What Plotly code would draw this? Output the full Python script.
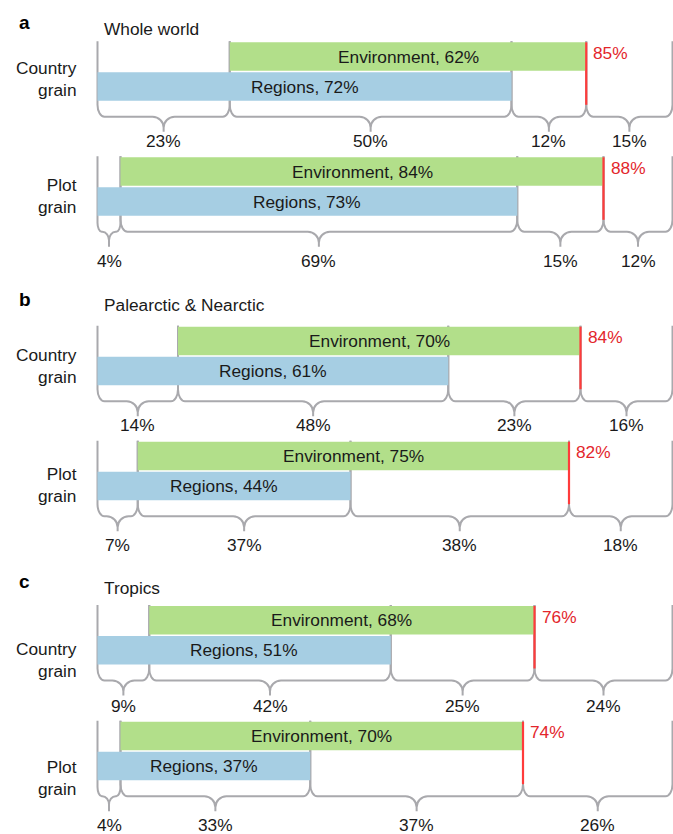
import plotly.graph_objects as go

# ---------------- data ----------------
panel_letters = ["a", "b", "c"]
panel_titles = ["Whole world", "Palearctic & Nearctic", "Tropics"]
row_labels = ["Country<br>grain", "Plot<br>grain", "Country<br>grain", "Plot<br>grain", "Country<br>grain", "Plot<br>grain"]
regions = [72, 73, 61, 44, 51, 37]          # Regions bar (%)
environment = [62, 84, 70, 75, 68, 70]      # Environment bar (%)
total = [85, 88, 84, 82, 76, 74]            # total explained (red)
seg_regions_only = [23, 4, 14, 7, 9, 4]     # bracket 1
seg_shared = [50, 69, 48, 37, 42, 33]       # bracket 2
seg_env_only = [12, 15, 23, 38, 25, 37]     # bracket 3
seg_unexplained = [15, 12, 16, 18, 24, 26]  # bracket 4

# ---------------- layout constants ----------------
W, H = 673, 834
X0_PX, PX_PER_PCT = 97.5, 5.75
ROW_TOP = [42.3, 157.3, 326.7, 441.7, 606.0, 721.7]
BAR_H = 28.5
BAR_GAP = 1.5
BRACE_DY = 74.5
TIP_LEN = 15
LABEL_DY = [98.5, 104, 98, 103.5, 100, 102.8]
ROWLABEL_Y = [78.5, 196, 366, 485, 660, 778]
PANEL_LETTER_Y = [22, 299, 581]
PANEL_TITLE_Y = [29, 305, 588]
RX_END, RY_END = 7.0, 12.0
RX_MID, RY_MID = 11.0, 11.0

GREEN = "#B2DF8A"
BLUE = "#A6CEE3"
GRAY = "#A9A9AD"
RED_LINE = "#FF3B3B"
RED_TEXT = "#E3262B"
FONT = "Liberation Sans, Arial, Helvetica, sans-serif"
FS = 17.3

xmin = -X0_PX / PX_PER_PCT
xmax = (W - X0_PX) / PX_PER_PCT

fig = go.Figure()

# bars
env_y, env_base, env_len = [], [], []
reg_y, reg_base, reg_len = [], [], []
for i in range(6):
    top = ROW_TOP[i]
    env_y.append(top + BAR_H / 2)
    env_base.append(seg_regions_only[i])
    env_len.append(total[i] - seg_regions_only[i])
    reg_y.append(top + BAR_H + BAR_GAP + BAR_H / 2)
    reg_base.append(0)
    reg_len.append(regions[i])

fig.add_trace(go.Bar(orientation="h", y=env_y, x=env_len, base=env_base, width=BAR_H,
                     marker=dict(color=GREEN, line=dict(width=0)), hoverinfo="skip", showlegend=False))
fig.add_trace(go.Bar(orientation="h", y=reg_y, x=reg_len, base=reg_base, width=BAR_H,
                     marker=dict(color=BLUE, line=dict(width=0)), hoverinfo="skip", showlegend=False))

k = 0.5523


def brace_path(x0, x1, yh, top):
    w_px = (x1 - x0) * PX_PER_PCT
    f = min(1.0, w_px / (2 * (RX_END + RX_MID) + 2))
    rxe = RX_END * f / PX_PER_PCT
    rye = RY_END * (0.4 + 0.6 * f)
    rxm = RX_MID * f / PX_PER_PCT
    rym = RY_MID * (0.4 + 0.6 * f)
    xm = (x0 + x1) / 2
    c = 1 - k
    p = (f"M{x0},{top} L{x0},{yh - rye} "
         f"C{x0},{yh - rye * c} {x0 + rxe * c},{yh} {x0 + rxe},{yh} "
         f"L{xm - rxm},{yh} "
         f"C{xm - rxm * c},{yh} {xm},{yh + rym * c} {xm},{yh + rym} "
         f"L{xm},{yh + TIP_LEN} "
         f"M{xm},{yh + rym} "
         f"C{xm},{yh + rym * c} {xm + rxm * c},{yh} {xm + rxm},{yh} "
         f"L{x1 - rxe},{yh} "
         f"C{x1 - rxe * c},{yh} {x1},{yh - rye * c} {x1},{yh - rye} "
         f"L{x1},{top}")
    return p, rye


shapes = []
annotations = []
for i in range(6):
    top = ROW_TOP[i]
    yh = top + BRACE_DY
    bounds = [0, seg_regions_only[i], regions[i], total[i], 100]
    segs = [seg_regions_only[i], seg_shared[i], seg_env_only[i], seg_unexplained[i]]
    red_end = yh - RY_END
    for j in range(4):
        p, rye = brace_path(bounds[j], bounds[j + 1], yh, top - 1)
        shapes.append(dict(type="path", path=p, xref="x", yref="y", layer="below",
                           line=dict(color=GRAY, width=2)))
        annotations.append(dict(x=(bounds[j] + bounds[j + 1]) / 2, y=top + LABEL_DY[i],
                                xref="x", yref="y", text=f"{segs[j]}%", showarrow=False,
                                xanchor="center", yanchor="middle",
                                font=dict(family=FONT, size=FS, color="#1a1a1a")))
    # red total line
    shapes.append(dict(type="line", x0=total[i], x1=total[i], y0=top, y1=red_end,
                       xref="x", yref="y", layer="above", line=dict(color=RED_LINE, width=2.2)))
    annotations.append(dict(x=total[i], y=top + 10.5, xref="x", yref="y", text=f"{total[i]}%",
                            showarrow=False, xanchor="left", yanchor="middle", xshift=5,
                            font=dict(family=FONT, size=FS, color=RED_TEXT)))
    # bar labels
    annotations.append(dict(x=(env_base[i] + total[i]) / 2, y=env_y[i], xref="x", yref="y",
                            text=f"Environment, {environment[i]}%", showarrow=False,
                            xanchor="center", yanchor="middle",
                            font=dict(family=FONT, size=FS, color="#1a1a1a")))
    annotations.append(dict(x=regions[i] / 2, y=reg_y[i], xref="x", yref="y",
                            text=f"Regions, {regions[i]}%", showarrow=False,
                            xanchor="center", yanchor="middle",
                            font=dict(family=FONT, size=FS, color="#1a1a1a")))
    # row label
    annotations.append(dict(x=0, y=ROWLABEL_Y[i], xref="x", yref="y", text=row_labels[i],
                            showarrow=False, xanchor="right", yanchor="middle", align="right",
                            xshift=-18.5, font=dict(family=FONT, size=FS, color="#1a1a1a")))

for p in range(3):
    annotations.append(dict(x=17 / W, y=PANEL_LETTER_Y[p], xref="paper", yref="y",
                            text=f"<b>{panel_letters[p]}</b>", showarrow=False,
                            xanchor="left", yanchor="middle",
                            font=dict(family=FONT, size=19, color="#000000")))
    annotations.append(dict(x=102 / W, y=PANEL_TITLE_Y[p], xref="paper", yref="y",
                            text=panel_titles[p], showarrow=False,
                            xanchor="left", yanchor="middle",
                            font=dict(family=FONT, size=FS, color="#1a1a1a")))

fig.update_layout(
    width=W, height=H,
    margin=dict(l=0, r=0, t=0, b=0, pad=0),
    plot_bgcolor="white", paper_bgcolor="white",
    xaxis=dict(range=[xmin, xmax], visible=False, fixedrange=True),
    yaxis=dict(range=[H, 0], visible=False, fixedrange=True),
    shapes=shapes, annotations=annotations,
    barmode="overlay", showlegend=False,
)

fig.write_html("out.html", config={"displayModeBar": False},
               post_script="document.body.style.margin='0';")
